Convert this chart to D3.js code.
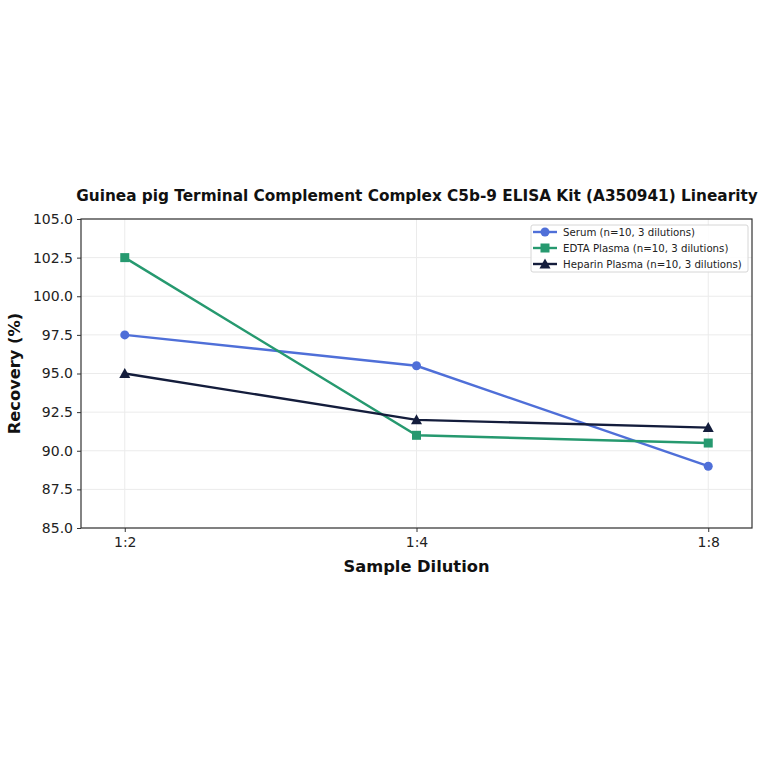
<!DOCTYPE html>
<html>
<head>
<meta charset="utf-8">
<script src="https://cdn.jsdelivr.net/npm/d3@7"></script>
<style>
  body { margin: 0; background: #fff; }
  svg { font-family: "DejaVu Sans", sans-serif; }
</style>
</head>
<body>
<div id="chart"></div>
<script>
const dilutions = ["1:2", "1:4", "1:8"];
const serum = [97.5, 95.5, 89.0];
const edta = [102.5, 91.0, 90.5];
const heparin = [95.0, 92.0, 91.5];
const yTicks = [85.0, 87.5, 90.0, 92.5, 95.0, 97.5, 100.0, 102.5, 105.0];

const seriesList = [
  { name: "Serum (n=10, 3 dilutions)", values: serum, color: "#4f6fd8", marker: "circle" },
  { name: "EDTA Plasma (n=10, 3 dilutions)", values: edta, color: "#26996f", marker: "square" },
  { name: "Heparin Plasma (n=10, 3 dilutions)", values: heparin, color: "#141d3c", marker: "triangle" }
];

const width = 764, height = 764;
const margin = { left: 81, right: 12, top: 219, bottom: 236 };
const plotW = width - margin.left - margin.right;
const plotH = height - margin.top - margin.bottom;

const svg = d3.select("#chart").append("svg")
  .attr("width", width)
  .attr("height", height);

const g = svg.append("g").attr("transform", `translate(${margin.left},${margin.top})`);

const x = d3.scaleLinear().domain([-0.15, 2.15]).range([0, plotW]);
const y = d3.scaleLinear().domain([85, 105]).range([plotH, 0]);

// grid
g.append("g").selectAll("line").data(dilutions).enter().append("line")
  .attr("x1", (d, i) => x(i)).attr("x2", (d, i) => x(i))
  .attr("y1", 0).attr("y2", plotH)
  .attr("stroke", "#ebebeb").attr("stroke-width", 1);
g.append("g").selectAll("line").data(yTicks).enter().append("line")
  .attr("x1", 0).attr("x2", plotW)
  .attr("y1", d => y(d)).attr("y2", d => y(d))
  .attr("stroke", "#ebebeb").attr("stroke-width", 1);

// axes
const xAxis = g.append("g").attr("transform", `translate(0,${plotH})`)
  .call(d3.axisBottom(x).tickValues([0, 1, 2]).tickFormat(i => dilutions[i]).tickSize(4).tickPadding(5));
const yAxis = g.append("g")
  .call(d3.axisLeft(y).tickValues(yTicks).tickFormat(d3.format(".1f")).tickSize(4).tickPadding(4));
[xAxis, yAxis].forEach(a => {
  a.selectAll("text").attr("font-size", 14).attr("fill", "#222").attr("font-family", "DejaVu Sans");
  a.selectAll(".tick line").attr("stroke", "#333");
  a.select(".domain").remove();
});

g.append("rect").attr("x", 0).attr("y", 0).attr("width", plotW).attr("height", plotH)
  .attr("fill", "none").attr("stroke", "#333").attr("stroke-width", 1.2);

// lines and markers
const line = d3.line().x((d, i) => x(i)).y(d => y(d));

function drawMarker(sel, type, color, cx, cy) {
  if (type === "circle") {
    sel.append("circle").attr("cx", cx).attr("cy", cy).attr("r", 4.5).attr("fill", color);
  } else if (type === "square") {
    sel.append("rect").attr("x", cx - 4.5).attr("y", cy - 4.5).attr("width", 9).attr("height", 9).attr("fill", color);
  } else {
    const s = 5.5;
    sel.append("path").attr("d", `M${cx},${cy - s}L${cx + s},${cy + s * 0.8}L${cx - s},${cy + s * 0.8}Z`).attr("fill", color);
  }
}

seriesList.forEach(s => {
  g.append("path").datum(s.values)
    .attr("d", line)
    .attr("fill", "none")
    .attr("stroke", s.color)
    .attr("stroke-width", 2.4);
  const mg = g.append("g");
  s.values.forEach((v, i) => drawMarker(mg, s.marker, s.color, x(i), y(v)));
});

// legend
const lg = g.append("g").attr("transform", `translate(${plotW - 221},6)`);
lg.append("rect").attr("width", 217).attr("height", 47).attr("rx", 2)
  .attr("fill", "#fff").attr("fill-opacity", 0.85).attr("stroke", "#d6d6d6");
seriesList.forEach((s, i) => {
  const yy = 7 + i * 16;
  lg.append("line").attr("x1", 2).attr("x2", 26).attr("y1", yy).attr("y2", yy)
    .attr("stroke", s.color).attr("stroke-width", 2.4);
  drawMarker(lg, s.marker, s.color, 14, yy);
  lg.append("text").attr("x", 32).attr("y", yy).attr("dy", "0.35em")
    .attr("font-size", 10.2).attr("fill", "#222").text(s.name);
});

// title and axis labels
svg.append("text").attr("x", 417).attr("y", 201)
  .attr("text-anchor", "middle").attr("font-size", 15.3).attr("font-weight", "bold")
  .attr("fill", "#111").text("Guinea pig Terminal Complement Complex C5b-9 ELISA Kit (A350941) Linearity");
svg.append("text").attr("x", margin.left + plotW / 2).attr("y", 572)
  .attr("text-anchor", "middle").attr("font-size", 16.3).attr("font-weight", "bold")
  .attr("fill", "#111").text("Sample Dilution");
svg.append("text").attr("transform", `translate(20,${margin.top + plotH / 2}) rotate(-90)`)
  .attr("text-anchor", "middle").attr("font-size", 16.3).attr("font-weight", "bold")
  .attr("fill", "#111").text("Recovery (%)");
</script>
</body>
</html>
